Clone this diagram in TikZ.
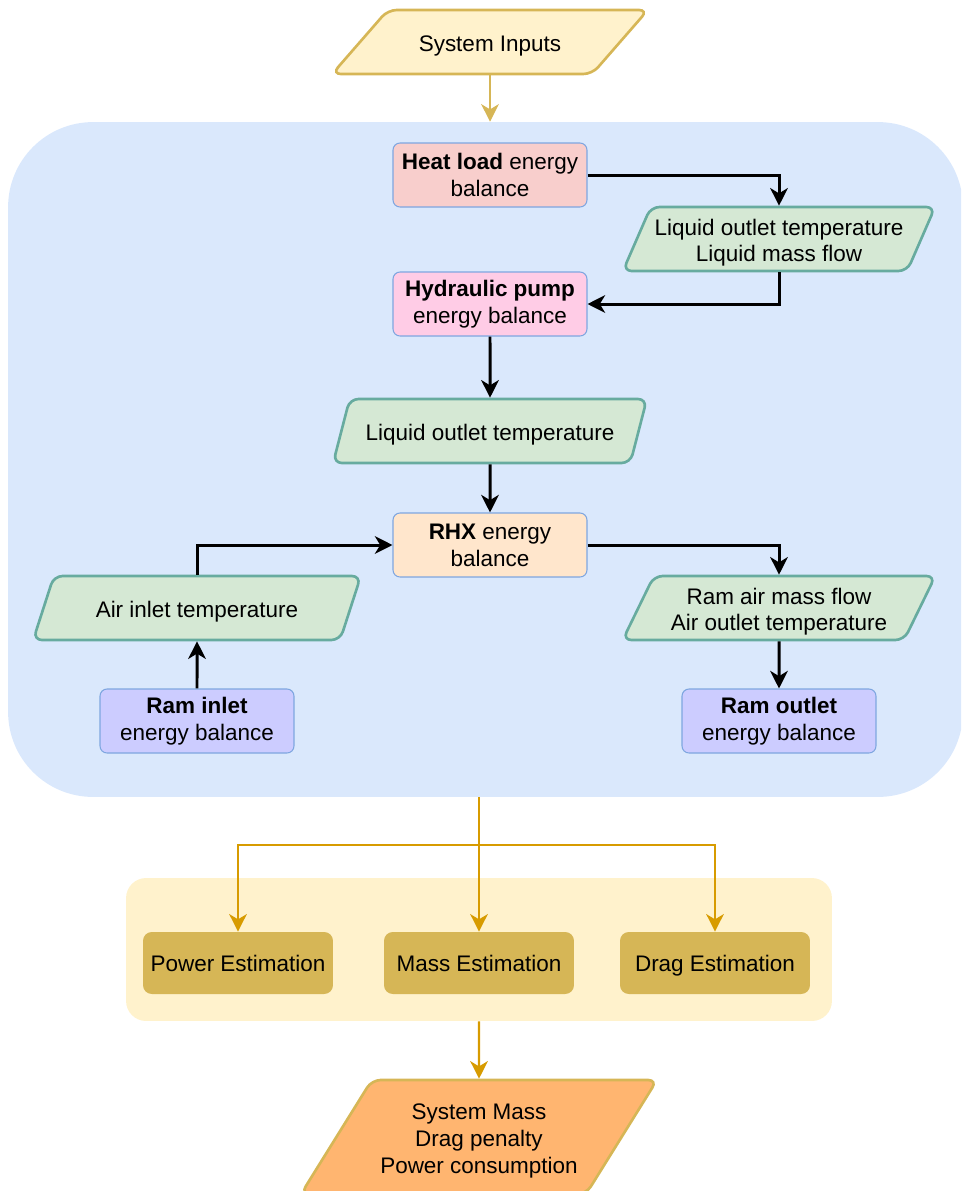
\documentclass[tikz,border=0pt]{standalone}
\usepackage{fontspec}
\setmainfont{Liberation Sans}
\usetikzlibrary{shapes.geometric,arrows.meta}

\definecolor{panelblue}{HTML}{DAE8FC}
\definecolor{boxline}{HTML}{7EA6E0}
\definecolor{heatfill}{HTML}{F8CECC}
\definecolor{pumpfill}{HTML}{FFCCE6}
\definecolor{rhxfill}{HTML}{FFE6CC}
\definecolor{ramfill}{HTML}{CCCCFF}
\definecolor{datafill}{HTML}{D5E8D4}
\definecolor{dataline}{HTML}{67AB9F}
\definecolor{sandfill}{HTML}{FFF2CC}
\definecolor{sandline}{HTML}{D6B656}
\definecolor{flowgold}{HTML}{D79B00}
\definecolor{resultfill}{HTML}{FFB570}

\begin{document}
\begin{tikzpicture}[x=0.02cm, y=-0.02cm, font=\fontsize{12.8}{15.3}\selectfont,
    box/.style={draw=boxline, line width=0.6pt, rounded corners=4pt, align=center,
      minimum width=3.88cm, minimum height=1.28cm, inner sep=1pt},
    para/.style={trapezium, trapezium stretches=true, trapezium left angle=65,
      trapezium right angle=115, draw=dataline, fill=datafill, line width=1.5pt,
      rounded corners=5pt, align=center, minimum height=1.28cm, inner sep=1pt,
      text height=13.5pt},
    estbox/.style={fill=sandline, rounded corners=5pt, minimum width=3.8cm,
      minimum height=1.24cm, text height=9.8pt, text depth=0.5pt},
    flow/.style={-{Stealth[length=10pt, width=10pt, inset=3pt]}, line width=1.7pt},
    goldflow/.style={-{Stealth[length=10pt, width=10pt, inset=3pt]}, line width=1.2pt, draw=flowgold, color=flowgold}]
  \clip (0,0) rectangle (961,1191);

  % containers
  \node[fill=panelblue, rounded corners=1.7cm, minimum width=19.1cm, minimum height=13.5cm] (model) at (485.5,459.5) {};
  \node[fill=sandfill, rounded corners=0.4cm, minimum width=14.12cm, minimum height=2.86cm] (estim) at (479,949.5) {};

  \node[para, trapezium left angle=38.7, trapezium right angle=141.3, draw=sandline, fill=sandfill,
    minimum width=6.32cm] (inputs) at (490,42) {System Inputs};

  \node[box, fill=heatfill] (heat) at (490,175) {\textbf{Heat load} energy\\balance};
  \node[para, minimum width=6.26cm, text height=28.8pt] (liqa) at (779,239) {Liquid outlet temperature\\Liquid mass flow};
  \node[box, fill=pumpfill] (pump) at (490,304) {\textbf{Hydraulic pump}\\energy balance};
  \node[para, minimum width=6.28cm] (liqb) at (490,431) {Liquid outlet temperature};
  \node[box, fill=rhxfill] (rhx) at (490,545) {\textbf{RHX} energy\\balance};
  \node[para, minimum width=6.56cm] (airin) at (197,608) {Air inlet temperature};
  \node[para, minimum width=6.26cm, text height=28.8pt] (airout) at (779,608) {Ram air mass flow\\Air outlet temperature};
  \node[box, fill=ramfill] (ramin) at (197,721) {\textbf{Ram inlet}\\energy balance};
  \node[box, fill=ramfill] (ramout) at (779,721) {\textbf{Ram outlet}\\energy balance};

  \node[estbox] (power) at (238,963) {Power Estimation};
  \node[estbox] (mass) at (479,963) {Mass Estimation};
  \node[estbox] (drag) at (715,963) {Drag Estimation};

  \node[para, trapezium left angle=52.3, trapezium right angle=127.7, draw=sandline, fill=resultfill,
    minimum width=7.14cm, minimum height=2.28cm, text height=44.3pt] (result) at (479,1137)
    {System Mass\\Drag penalty\\Power consumption};

  \coordinate (split) at (479,845);

  \draw[flow, draw=sandline, color=sandline, line width=1.2pt] (inputs.south) -- (inputs.south |- model.north);
  \draw[flow] (heat.east) -| (liqa.north);
  \draw[flow] (liqa.south) |- (pump.east);
  \draw[flow] (pump.south) -- (liqb.north);
  \draw[flow] (liqb.south) -- (rhx.north);
  \draw[flow] (ramin.north) -- (airin.south);
  \draw[flow] (airin.north) |- (rhx.west);
  \draw[flow] (rhx.east) -| (airout.north);
  \draw[flow] (airout.south) -- (ramout.north);

  \draw[goldflow] (model.south -| mass.north) -- (mass.north);
  \draw[goldflow] (split) -| (power.north);
  \draw[goldflow] (split) -| (drag.north);
  \draw[goldflow] (estim.south) -- (result.north);
\end{tikzpicture}
\end{document}
